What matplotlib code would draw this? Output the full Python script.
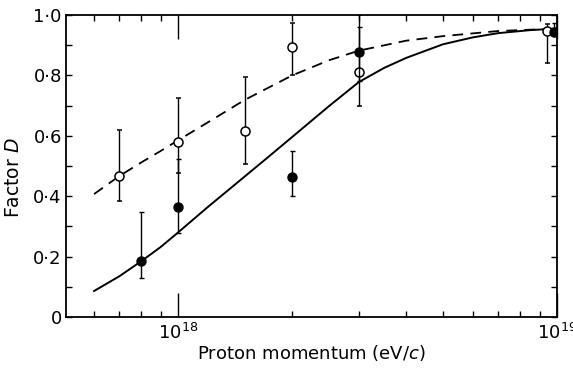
import numpy as np
import matplotlib
matplotlib.use('Agg')
import matplotlib.pyplot as plt
from matplotlib.ticker import FixedLocator, NullFormatter

# open circles: momentum, D, lower end, upper end
open_p = [7e17, 1e18, 1.5e18, 2e18, 3e18, 9.4e18]
open_d = [0.467, 0.578, 0.616, 0.895, 0.81, 0.948]
open_lo = [0.384, 0.477, 0.507, 0.80, 0.70, 0.84]
open_hi = [0.62, 0.725, 0.795, 0.975, 1.0, 0.97]

# filled circles
fill_p = [8e17, 1e18, 2e18, 3e18, 9.8e18]
fill_d = [0.185, 0.364, 0.464, 0.877, 0.945]
fill_lo = [0.129, 0.278, 0.40, 0.78, 0.93]
fill_hi = [0.348, 0.523, 0.55, 0.96, 0.975]

# solid curve
solid_p = [6e17, 7e17, 8e17, 9e17, 1e18, 1.2e18, 1.43e18, 1.7e18, 2e18,
           2.5e18, 3e18, 3.5e18, 4e18, 5e18, 6e18, 7e18, 8.5e18, 1e19]
solid_d = [0.086, 0.135, 0.185, 0.232, 0.28, 0.365, 0.444, 0.522, 0.596,
           0.698, 0.778, 0.825, 0.858, 0.903, 0.926, 0.94, 0.95, 0.955]

# dashed curve
dash_p = [6e17, 7e17, 8e17, 9e17, 1e18, 1.2e18, 1.5e18, 2e18, 2.5e18,
          3e18, 4e18, 5e18, 7e18, 1e19]
dash_d = [0.407, 0.467, 0.512, 0.55, 0.585, 0.645, 0.719, 0.80, 0.85,
          0.882, 0.915, 0.93, 0.947, 0.955]

yticks = [0, 0.2, 0.4, 0.6, 0.8, 1.0]
yticklabels = ['0', '0\u00b72', '0\u00b74', '0\u00b76', '0\u00b78', '1\u00b70']

plt.rcParams['font.family'] = ['DejaVu Sans']
fig = plt.figure(figsize=(5.73, 3.68), dpi=100)
ax = fig.add_axes([0.1152, 0.1386, 0.8568, 0.8206])

ax.plot(solid_p, solid_d, color='black', lw=1.4)
ax.plot(dash_p, dash_d, color='black', lw=1.3, dashes=(6, 4))

ax.errorbar(open_p, open_d,
            yerr=[np.subtract(open_d, open_lo), np.subtract(open_hi, open_d)],
            fmt='o', ms=6.5, mfc='white', mec='black', mew=1.1,
            ecolor='black', elinewidth=1.0, capsize=1.8, capthick=1.0, zorder=3)
ax.errorbar(fill_p, fill_d,
            yerr=[np.subtract(fill_d, fill_lo), np.subtract(fill_hi, fill_d)],
            fmt='o', ms=6.5, mfc='black', mec='black',
            ecolor='black', elinewidth=1.0, capsize=1.8, capthick=1.0, zorder=4)

ax.set_xscale('log')
ax.set_xlim(5.06e17, 1e19)
ax.set_ylim(0, 1.0)

ax.xaxis.set_major_locator(FixedLocator([1e18, 1e19]))
ax.set_xticklabels([r'$10^{18}$', r'$10^{19}$'])
minor_x = [6e17, 7e17, 8e17, 9e17] + [k * 1e18 for k in range(2, 10)]
ax.xaxis.set_minor_locator(FixedLocator(minor_x))
ax.xaxis.set_minor_formatter(NullFormatter())

ax.set_yticks(yticks)
ax.set_yticklabels(yticklabels)
ax.yaxis.set_minor_locator(FixedLocator([0.1, 0.3, 0.5, 0.7, 0.9]))

ax.tick_params(axis='x', which='major', direction='in', length=17, width=1.0,
               top=True, bottom=True, labelsize=13, pad=4)
ax.tick_params(axis='x', which='minor', direction='in', length=4, width=1.0,
               top=True, bottom=True)
ax.tick_params(axis='y', which='both', direction='in', length=4, width=1.0,
               left=True, right=True, labelsize=13, pad=3)

# longer ticks at 2 and 5 x 10^18
for t in ax.xaxis.get_minor_ticks():
    if np.isclose(t.get_loc(), 2e18) or np.isclose(t.get_loc(), 5e18):
        t.tick1line.set_markersize(8)
        t.tick2line.set_markersize(8)

for s in ax.spines.values():
    s.set_linewidth(1.3)

ax.set_xlabel(r'Proton momentum (eV/$c$)', fontsize=13, labelpad=0)
ax.set_ylabel(r'Factor $D$', fontsize=13.5)
ax.yaxis.set_label_coords(-0.087, 0.46)

fig.savefig('out.png', dpi=100)
